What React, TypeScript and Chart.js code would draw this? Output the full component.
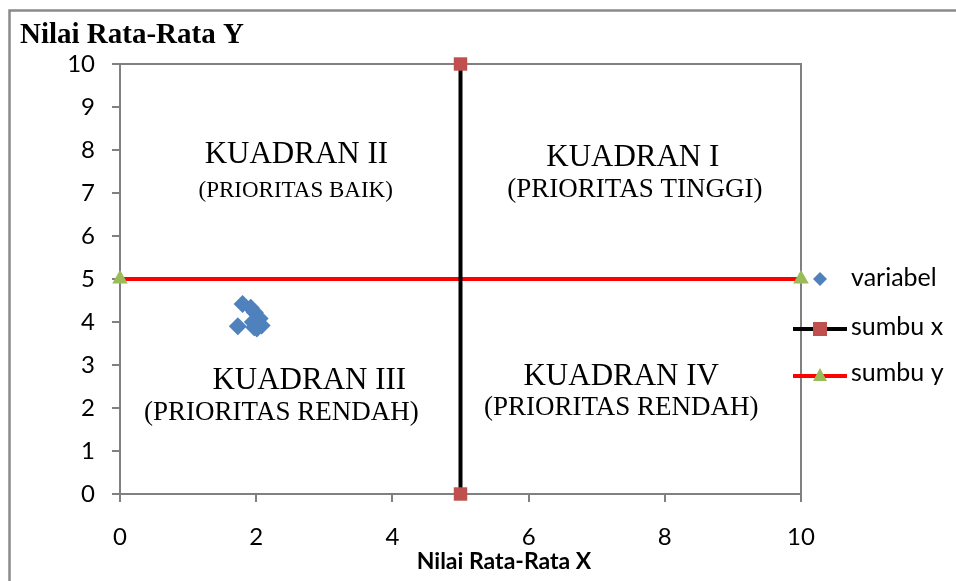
import React, { useEffect, useRef } from "react";
import { Chart, registerables } from "chart.js";

Chart.register(...registerables);

// ---- data ----
const variabelX = [1.8, 1.92, 1.98, 2.05, 2.08, 1.95, 1.97, 2.01, 1.73];
const variabelY = [4.42, 4.33, 4.22, 4.08, 3.92, 4.0, 3.88, 3.85, 3.9];
const sumbuX = [
  { x: 5, y: 0 },
  { x: 5, y: 10 },
];
const sumbuY = [
  { x: 0, y: 5 },
  { x: 10, y: 5 },
];
const seriesNames = ["variabel", "sumbu x", "sumbu y"];
const xTicks = [0, 2, 4, 6, 8, 10];
const yTicks = [0, 1, 2, 3, 4, 5, 6, 7, 8, 9, 10];
const yTitle = "Nilai Rata-Rata Y";
const xTitle = "Nilai Rata-Rata X";

// quadrant annotation texts, anchored in data coordinates
const quadTitles = ["KUADRAN I", "KUADRAN II", "KUADRAN III", "KUADRAN IV"];
const quadTitleX = [7.53, 2.59, 2.78, 7.36];
const quadTitleY = [7.63, 7.7, 2.44, 2.53];
const quadSubs = ["(PRIORITAS TINGGI)", "(PRIORITAS BAIK)", "(PRIORITAS RENDAH)", "(PRIORITAS RENDAH)"];
const quadSubX = [7.56, 2.58, 2.37, 7.36];
const quadSubY = [6.91, 6.91, 1.72, 1.84];
const quadSubSize = [27, 23, 27, 27];

const BLUE = "#4F81BD";
const REDM = "#C0504D";
const GREEN = "#9BBB59";
const TICKFONT = "Lato, 'Noto Sans', sans-serif";
const SERIF = "'Liberation Serif', 'Times New Roman', serif";

function diamond(ctx: CanvasRenderingContext2D, x: number, y: number, r: number, c: string) {
  ctx.beginPath();
  ctx.moveTo(x, y - r);
  ctx.lineTo(x + r, y);
  ctx.lineTo(x, y + r);
  ctx.lineTo(x - r, y);
  ctx.closePath();
  ctx.fillStyle = c;
  ctx.fill();
}

const decor = {
  id: "decor",
  beforeDraw(chart: any) {
    const ctx = chart.ctx as CanvasRenderingContext2D;
    ctx.save();
    ctx.fillStyle = "#fff";
    ctx.fillRect(0, 0, chart.width, chart.height);
    ctx.strokeStyle = "#8a8a8a";
    ctx.lineWidth = 2.5;
    ctx.beginPath();
    ctx.moveTo(1.5, chart.height);
    ctx.lineTo(1.5, 2.5);
    ctx.lineTo(chart.width, 2.5);
    ctx.stroke();
    ctx.restore();
  },
  beforeDatasetsDraw(chart: any) {
    const ctx = chart.ctx as CanvasRenderingContext2D;
    const a = chart.chartArea;
    const xs = chart.scales.x;
    const ys = chart.scales.y;
    ctx.save();
    ctx.strokeStyle = "#808080";
    ctx.lineWidth = 2;
    ctx.strokeRect(a.left, a.top, a.right - a.left, a.bottom - a.top);
    ctx.fillStyle = "#000";
    ctx.textAlign = "center";
    ctx.textBaseline = "alphabetic";
    for (let i = 0; i < quadTitles.length; i++) {
      ctx.font = `31px ${SERIF}`;
      ctx.fillText(quadTitles[i], xs.getPixelForValue(quadTitleX[i]), ys.getPixelForValue(quadTitleY[i]));
      ctx.font = `${quadSubSize[i]}px ${SERIF}`;
      ctx.fillText(quadSubs[i], xs.getPixelForValue(quadSubX[i]), ys.getPixelForValue(quadSubY[i]));
    }
    // axis titles
    ctx.textAlign = "left";
    ctx.font = `bold 29px ${SERIF}`;
    ctx.fillText(yTitle, 12, 35);
    ctx.textAlign = "center";
    ctx.font = `bold 23px ${TICKFONT}`;
    ctx.fillText(xTitle, 496, 561);
    ctx.restore();
  },
  afterDraw(chart: any) {
    const ctx = chart.ctx as CanvasRenderingContext2D;
    const a = chart.chartArea;
    const L = a.right - 8;
    const R = a.right + 46;
    const mx = a.right + 19;
    const tx = a.right + 50;
    ctx.save();
    ctx.fillStyle = "#000";
    ctx.font = `25px ${TICKFONT}`;
    ctx.textAlign = "left";
    ctx.textBaseline = "alphabetic";
    // variabel
    diamond(ctx, mx, 271, 7, BLUE);
    ctx.fillStyle = "#000";
    ctx.fillText(seriesNames[0], tx, 278);
    // sumbu x
    ctx.strokeStyle = "#000";
    ctx.lineWidth = 4;
    ctx.beginPath();
    ctx.moveTo(L, 321);
    ctx.lineTo(R, 321);
    ctx.stroke();
    ctx.fillStyle = REDM;
    ctx.fillRect(mx - 7, 321 - 7, 14, 14);
    ctx.fillStyle = "#000";
    ctx.fillText(seriesNames[1], tx, 327);
    // sumbu y
    ctx.strokeStyle = "#FF0000";
    ctx.beginPath();
    ctx.moveTo(L, 368);
    ctx.lineTo(R, 368);
    ctx.stroke();
    ctx.fillStyle = GREEN;
    ctx.beginPath();
    ctx.moveTo(mx, 368 - 8);
    ctx.lineTo(mx + 7, 368 + 5);
    ctx.lineTo(mx - 7, 368 + 5);
    ctx.closePath();
    ctx.fill();
    ctx.fillStyle = "#000";
    ctx.fillText(seriesNames[2], tx, 373);
    ctx.restore();
  },
};

export default function App() {
  const ref = useRef<HTMLCanvasElement | null>(null);
  useEffect(() => {
    if (!ref.current) return;
    const chart = new Chart(ref.current, {
      type: "scatter",
      data: {
        datasets: [
          {
            label: seriesNames[0],
            data: variabelX.map((x, i) => ({ x, y: variabelY[i] })),
            pointStyle: "rectRot",
            pointRadius: 9,
            backgroundColor: BLUE,
            borderColor: BLUE,
            borderWidth: 0,
            showLine: false,
            clip: false,
            order: 0,
          },
          {
            label: seriesNames[1],
            data: sumbuX,
            showLine: true,
            borderColor: "#000",
            borderWidth: 4,
            pointStyle: "rect",
            pointRadius: 9.5,
            pointBackgroundColor: REDM,
            pointBorderColor: REDM,
            pointBorderWidth: 0,
            clip: false,
            order: 1,
          },
          {
            label: seriesNames[2],
            data: sumbuY,
            showLine: true,
            borderColor: "#FF0000",
            borderWidth: 4,
            pointStyle: "triangle",
            pointRadius: 9,
            pointBackgroundColor: GREEN,
            pointBorderColor: GREEN,
            pointBorderWidth: 0,
            clip: false,
            order: 2,
          },
        ] as any,
      },
      options: {
        animation: false,
        responsive: false,
        layout: { padding: { top: 56, right: 155, bottom: 0, left: 0 } },
        plugins: { legend: { display: false }, tooltip: { enabled: false } },
        scales: {
          x: {
            type: "linear",
            min: 0,
            max: 10,
            afterFit: (s: any) => {
              s.height = 87;
            },
            afterBuildTicks: (s: any) => {
              s.ticks = xTicks.map((v) => ({ value: v }));
            },
            ticks: {
              color: "#000",
              font: { family: TICKFONT, size: 24 },
              padding: 21,
              maxRotation: 0,
            },
            grid: { drawOnChartArea: false, drawTicks: true, tickLength: 8, color: "#808080", lineWidth: 2 },
            border: { display: true, color: "#808080", width: 2 },
          },
          y: {
            type: "linear",
            min: 0,
            max: 10,
            afterFit: (s: any) => {
              s.width = 112;
            },
            afterBuildTicks: (s: any) => {
              s.ticks = yTicks.map((v) => ({ value: v }));
            },
            ticks: {
              color: "#000",
              font: { family: TICKFONT, size: 24 },
              padding: 17,
            },
            grid: { drawOnChartArea: false, drawTicks: true, tickLength: 8, color: "#808080", lineWidth: 2 },
            border: { display: true, color: "#808080", width: 2 },
          },
        },
      } as any,
      plugins: [decor],
    });
    return () => chart.destroy();
  }, []);
  return (
    <div style={{ position: "fixed", left: 8, top: 8, width: 948, height: 573 }}>
      <canvas ref={ref} width={948} height={573} style={{ display: "block", width: 948, height: 573 }} />
    </div>
  );
}
